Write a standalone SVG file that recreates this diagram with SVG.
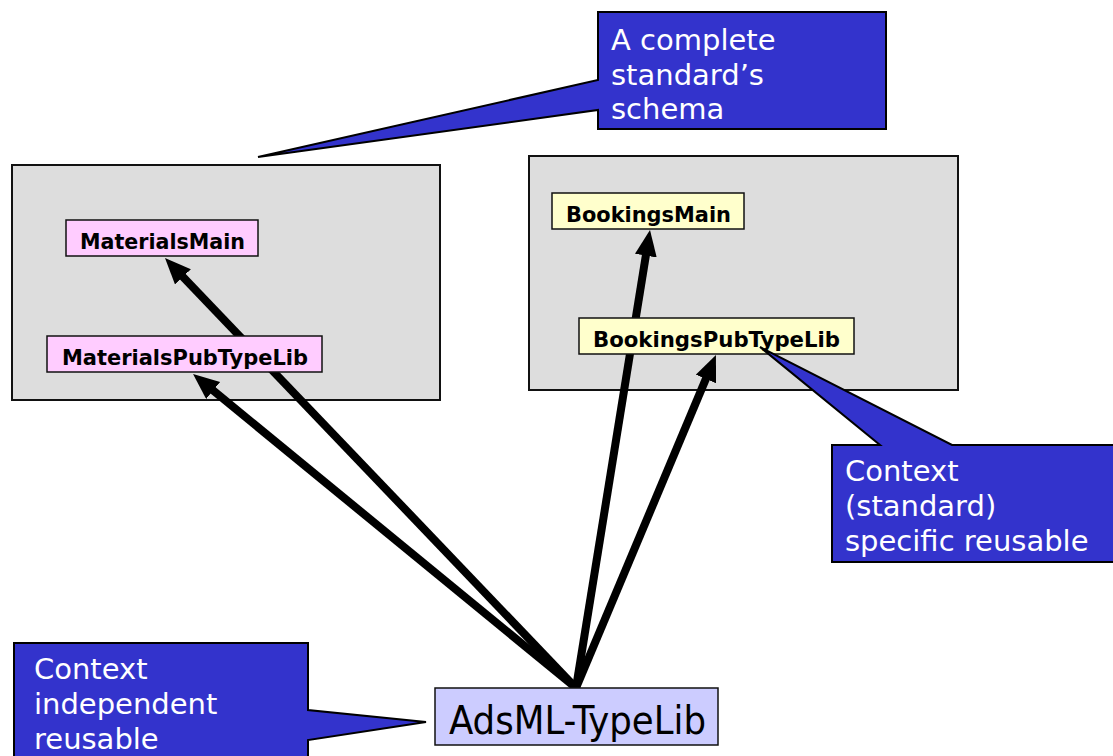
<svg xmlns="http://www.w3.org/2000/svg" width="1113" height="756" viewBox="0 0 1113 756">
<style>
.cont{fill:#DDDDDD;stroke:#111;stroke-width:2}
.pink{fill:#FFCCFF;stroke:#111;stroke-width:1.5}
.yel{fill:#FFFFCC;stroke:#111;stroke-width:1.5}
.lbl{font-family:"DejaVu Sans",Verdana,sans-serif;font-weight:bold;font-size:20.5px;fill:#000}
.call{fill:#3333CC;stroke:#000;stroke-width:2;stroke-linejoin:miter}
.ct{font-family:"DejaVu Sans",Tahoma,sans-serif;font-size:29px;fill:#fff}
.conn{stroke:#000;stroke-width:8;fill:none}
</style>
<defs>
<marker id="ah" markerUnits="userSpaceOnUse" markerWidth="28" markerHeight="24" refX="6" refY="11" orient="auto">
<path d="M0,0 L26,11 L0,22 z" fill="#000"/>
</marker>
</defs>
<rect x="0" y="0" width="1113" height="756" fill="#fff"/>
<g id="materials-container"><rect class="cont" x="12" y="165" width="428" height="235"/></g>
<g id="bookings-container"><rect class="cont" x="529" y="156" width="429" height="234"/></g>
<g id="connectors">
<line class="conn" x1="576" y1="688" x2="178.8" y2="272.5" marker-end="url(#ah)"/>
<line class="conn" x1="576" y1="688" x2="208.5" y2="386.7" marker-end="url(#ah)"/>
<line class="conn" x1="576" y1="688" x2="646.8" y2="249.7" marker-end="url(#ah)"/>
<line class="conn" x1="576" y1="688" x2="708.2" y2="373.4" marker-end="url(#ah)"/>
</g>
<g id="MaterialsMain"><rect class="pink" x="66" y="220" width="192" height="36"/><text class="lbl" x="80" y="249" textLength="165" lengthAdjust="spacingAndGlyphs">MaterialsMain</text></g>
<g id="MaterialsPubTypeLib"><rect class="pink" x="47" y="336" width="275" height="36"/><text class="lbl" x="62" y="365" textLength="246" lengthAdjust="spacingAndGlyphs">MaterialsPubTypeLib</text></g>
<g id="BookingsMain"><rect class="yel" x="552" y="193" width="192" height="36"/><text class="lbl" x="566" y="222" textLength="165" lengthAdjust="spacingAndGlyphs">BookingsMain</text></g>
<g id="BookingsPubTypeLib"><rect class="yel" x="579" y="318" width="275" height="36"/><text class="lbl" x="593" y="347" textLength="247" lengthAdjust="spacingAndGlyphs">BookingsPubTypeLib</text></g>
<g id="AdsML-TypeLib"><rect x="435" y="688" width="283" height="57" fill="#CCCCFF" stroke="#111" stroke-width="1.5"/><text x="449" y="734" font-family="'DejaVu Sans Condensed','DejaVu Sans',sans-serif" font-size="39" textLength="257" lengthAdjust="spacingAndGlyphs">AdsML-TypeLib</text></g>
<g id="callout-schema">
<path class="call" d="M598,12 H886 V129 H598 V110 L258,157 L598,80 Z"/>
<text class="ct" x="611" y="50">A complete</text>
<text class="ct" x="611" y="85">standard’s</text>
<text class="ct" x="611" y="119">schema</text>
</g>
<g id="callout-specific">
<path class="call" d="M832,445 H880 L760,347 L952,445 H1114 V562 H832 Z"/>
<text class="ct" x="845" y="481">Context</text>
<text class="ct" x="845" y="516">(standard)</text>
<text class="ct" x="845" y="551">specific reusable</text>
</g>
<g id="callout-independent">
<path class="call" d="M14,643 H308 V710 L426,722 L308,740 V758 H14 Z"/>
<text class="ct" x="34" y="679">Context</text>
<text class="ct" x="34" y="714">independent</text>
<text class="ct" x="34" y="749">reusable</text>
</g>
</svg>
